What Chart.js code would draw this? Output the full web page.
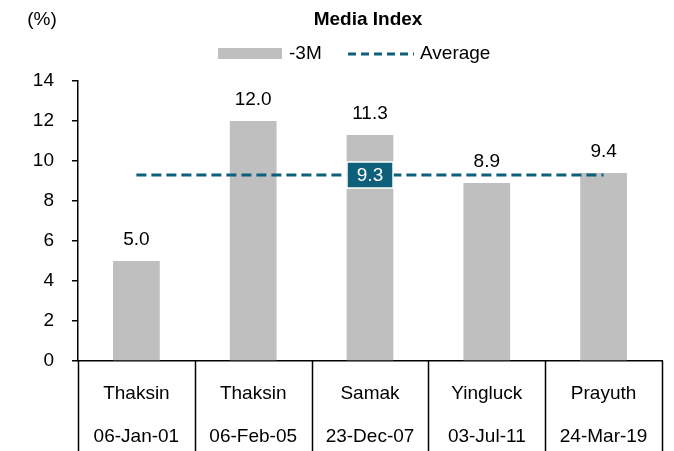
<!DOCTYPE html>
<html>
<head>
    <title>Media Index</title>
    <style>
    body { margin: 0; background: #FFFFFF; }
    #wrap { width: 674px; height: 451px; }
    </style>
    <script src="https://cdn.jsdelivr.net/npm/chart.js"></script>
</head>
<body>
    <div id="wrap"><canvas id="media-chart"></canvas></div>
    <script>
        const leaders = ['Thaksin', 'Thaksin', 'Samak', 'Yingluck', 'Prayuth'];
        const dates = ['06-Jan-01', '06-Feb-05', '23-Dec-07', '03-Jul-11', '24-Mar-19'];
        const change3M = [5.0, 12.0, 11.3, 8.9, 9.4];
        const averageValue = 9.3;
        const yTicks = [0, 2, 4, 6, 8, 10, 12, 14];

        const FONT = "'Liberation Sans', Arial, sans-serif";
        const TEAL = '#0d5f7a';
        const GREY = '#bfbfbf';

        // separators under x axis, value labels, avg box, title and legend
        const extras = {
            id: 'extras',
            afterDatasetsDraw(chart) {
                const ctx = chart.ctx;
                const x = chart.scales.x, y = chart.scales.y;
                const step = x.getPixelForTick(1) - x.getPixelForTick(0);
                ctx.save();

                // category separators
                ctx.strokeStyle = '#000';
                ctx.lineWidth = 1.5;
                for (let i = 0; i <= leaders.length; i++) {
                    const px = Math.round(x.getPixelForTick(0) - step / 2 + i * step) + 0.5;
                    ctx.beginPath();
                    ctx.moveTo(px, y.bottom);
                    ctx.lineTo(px, chart.height);
                    ctx.stroke();
                }

                // bar values
                ctx.fillStyle = '#000';
                ctx.font = '19px ' + FONT;
                ctx.textAlign = 'center';
                ctx.textBaseline = 'middle';
                const meta = chart.getDatasetMeta(0);
                meta.data.forEach((bar, i) => {
                    ctx.fillText(change3M[i].toFixed(1), bar.x, bar.y - 21);
                });

                // average box
                const bx = x.getPixelForTick(2), by = y.getPixelForValue(averageValue);
                ctx.fillStyle = TEAL;
                ctx.strokeStyle = '#fff';
                ctx.lineWidth = 1.5;
                ctx.fillRect(bx - 23, by - 13, 46, 26);
                ctx.strokeRect(bx - 23, by - 13, 46, 26);
                ctx.fillStyle = '#fff';
                ctx.fillText(averageValue.toFixed(1), bx, by + 1);

                // title + unit
                ctx.fillStyle = '#000';
                ctx.font = 'bold 19px ' + FONT;
                ctx.fillText('Media Index', 368, 20);
                ctx.font = '19px ' + FONT;
                ctx.fillText('(%)', 42, 20);

                // legend
                ctx.fillStyle = GREY;
                ctx.fillRect(218, 48, 64, 11);
                ctx.fillStyle = '#000';
                ctx.textAlign = 'left';
                ctx.fillText('-3M', 289, 54);
                ctx.strokeStyle = TEAL;
                ctx.lineWidth = 3;
                ctx.setLineDash([8, 5]);
                ctx.beginPath();
                ctx.moveTo(348, 54);
                ctx.lineTo(414, 54);
                ctx.stroke();
                ctx.setLineDash([]);
                ctx.fillText('Average', 420, 54);
                ctx.restore();
            }
        };

        const ctx = document.getElementById('media-chart').getContext('2d');
        const chart = new Chart(ctx, {
            type: 'bar',
            data: {
                labels: leaders.map((l, i) => [l, dates[i]]),
                datasets: [{
                    label: '-3M',
                    data: change3M,
                    backgroundColor: GREY,
                    barPercentage: 0.4,
                    categoryPercentage: 1.0,
                    order: 2
                }, {
                    type: 'line',
                    label: 'Average',
                    data: change3M.map(() => averageValue),
                    borderColor: TEAL,
                    borderWidth: 3,
                    borderDash: [10, 5],
                    pointRadius: 0,
                    fill: false,
                    order: 1
                }]
            },
            options: {
                responsive: true,
                maintainAspectRatio: false,
                animation: false,
                layout: { padding: { top: 81, right: 12, left: 0, bottom: 0 } },
                plugins: {
                    legend: { display: false },
                    title: { display: false },
                    tooltip: { enabled: false }
                },
                scales: {
                    x: {
                        grid: { display: false },
                        border: { color: '#000', width: 1.5 },
                        ticks: {
                            color: '#000',
                            padding: 3,
                            maxRotation: 0,
                            font: { family: FONT, size: 19, lineHeight: 2.26 }
                        },
                        afterFit(s) { s.height = 90; }
                    },
                    y: {
                        min: 0,
                        max: 14,
                        afterBuildTicks(s) { s.ticks = yTicks.map(v => ({ value: v })); },
                        grid: {
                            drawOnChartArea: false,
                            drawTicks: true,
                            tickLength: 6,
                            color: '#000',
                            lineWidth: 1.5
                        },
                        border: { color: '#000', width: 1.5 },
                        ticks: {
                            color: '#000',
                            padding: 18,
                            font: { family: FONT, size: 19 }
                        },
                        afterFit(s) { s.width = 78; }
                    }
                }
            },
            plugins: [extras]
        });
    </script>
</body>
</html>
